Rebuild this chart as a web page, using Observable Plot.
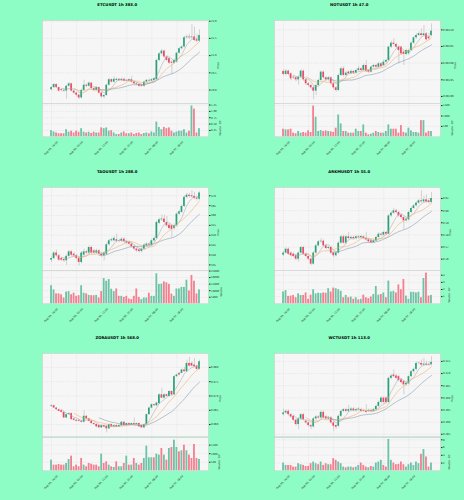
<!DOCTYPE html>
<html>
<head>
<meta charset="utf-8">
<script src="https://cdn.jsdelivr.net/npm/d3@7"></script>
<script src="https://cdn.jsdelivr.net/npm/@observablehq/plot@0.6"></script>
<style>
  html, body { margin: 0; padding: 0; background: #8efcc5; }
  #fig { position: relative; width: 464px; height: 500px; overflow: hidden; background: #8efcc5; }
  .pane { position: absolute; }
  .pane svg { overflow: visible; }
</style>
</head>
<body>
<div id="fig"></div>
<script>
// ---- hourly candles, 60 bars per market ----
const xTickIndex = [0, 10, 20, 30, 40, 50];
const xTickLabels = ["Aug 05, 16:00", "Aug 06, 02:00", "Aug 06, 12:00", "Aug 06, 22:00", "Aug 07, 08:00", "Aug 07, 18:00"];

// ETCUSDT
const etcOpen  = [20.01,20.07,20.16,20.07,20.01,19.99,19.97,20.11,20.18,19.97,19.91,19.85,19.77,19.99,20.14,20.11,20.20,20.04,19.99,20.07,19.91,19.80,19.84,20.14,20.30,20.23,20.28,20.31,20.28,20.31,20.28,20.26,20.30,20.23,20.18,20.16,20.14,20.11,20.23,20.28,20.26,20.28,20.30,20.86,21.05,21.13,20.96,20.91,20.81,20.78,20.81,21.07,21.20,21.25,21.52,21.54,21.52,21.54,21.46,21.42];
const etcHigh  = [20.10,20.19,20.18,20.09,20.04,20.03,20.13,20.22,20.20,20.00,19.94,19.88,20.02,20.28,20.17,20.24,20.22,20.07,20.10,20.09,19.94,19.87,20.17,20.34,20.33,20.38,20.34,20.34,20.35,20.34,20.31,20.33,20.40,20.26,20.21,20.19,20.17,20.26,20.31,20.32,20.34,20.36,20.90,21.09,21.18,21.16,21.00,20.94,20.85,20.90,21.10,21.24,21.29,21.56,21.60,21.62,21.90,21.83,21.62,21.75];
const etcLow   = [19.98,20.05,20.04,19.94,19.95,19.93,19.73,20.08,19.94,19.87,19.80,19.72,19.74,19.96,20.07,20.08,20.01,19.95,19.96,19.88,19.76,19.75,19.82,20.11,20.20,20.20,20.25,20.25,20.25,20.23,20.23,20.23,20.20,20.15,20.12,20.07,20.08,20.08,20.20,20.22,20.23,20.25,20.28,20.82,21.01,20.92,20.82,20.74,20.45,20.75,20.78,21.04,21.16,21.22,21.48,21.47,21.47,21.40,21.38,21.39];
const etcClose = [20.07,20.16,20.07,19.97,19.99,19.97,20.11,20.18,19.97,19.91,19.85,19.77,19.99,20.14,20.11,20.20,20.04,19.99,20.07,19.91,19.80,19.84,20.14,20.30,20.23,20.31,20.31,20.28,20.31,20.26,20.26,20.30,20.23,20.18,20.16,20.11,20.11,20.23,20.28,20.26,20.30,20.33,20.86,21.05,21.13,20.96,20.86,20.78,20.78,20.86,21.07,21.20,21.25,21.52,21.54,21.52,21.54,21.44,21.42,21.58];
const etcVolume = [0.24,0.19,0.15,0.12,0.12,0.12,0.28,0.18,0.22,0.15,0.22,0.18,0.32,0.18,0.15,0.18,0.13,0.18,0.15,0.15,0.35,0.32,0.35,0.22,0.24,0.15,0.09,0.09,0.15,0.19,0.12,0.12,0.15,0.09,0.13,0.15,0.09,0.13,0.15,0.12,0.19,0.15,0.58,0.37,0.28,0.37,0.32,0.35,0.22,0.15,0.19,0.22,0.22,0.28,0.15,0.22,1.21,1.09,0.15,0.32];

// NOTUSDT
const notOpen  = [0.001975,0.001966,0.001976,0.001968,0.001958,0.001956,0.001950,0.001958,0.001976,0.001950,0.001938,0.001933,0.001926,0.001916,0.001933,0.001948,0.001973,0.001956,0.001950,0.001956,0.001938,0.001926,0.001918,0.001963,0.001983,0.001963,0.001973,0.001968,0.001975,0.001970,0.001978,0.001983,0.001978,0.001993,0.001978,0.001973,0.001988,0.001993,0.001988,0.001998,0.001993,0.002003,0.002008,0.002048,0.002060,0.002056,0.002048,0.002048,0.002033,0.002026,0.002028,0.002038,0.002060,0.002076,0.002083,0.002088,0.002083,0.002088,0.002078,0.002083];
const notHigh  = [0.001980,0.001981,0.001979,0.001971,0.001962,0.001960,0.001962,0.001980,0.001979,0.001953,0.001942,0.001937,0.001930,0.001937,0.001952,0.001977,0.001976,0.001960,0.001960,0.001959,0.001941,0.001930,0.001967,0.001988,0.001990,0.001975,0.001977,0.001980,0.001978,0.001982,0.001990,0.001986,0.001997,0.002008,0.001981,0.001991,0.001997,0.001996,0.002002,0.002001,0.002010,0.002012,0.002052,0.002066,0.002073,0.002060,0.002052,0.002051,0.002037,0.002042,0.002042,0.002064,0.002080,0.002088,0.002094,0.002103,0.002113,0.002092,0.002090,0.002118];
const notLow   = [0.001961,0.001962,0.001962,0.001948,0.001951,0.001944,0.001934,0.001955,0.001945,0.001932,0.001928,0.001920,0.001890,0.001903,0.001930,0.001945,0.001951,0.001945,0.001946,0.001933,0.001920,0.001912,0.001915,0.001960,0.001958,0.001959,0.001964,0.001965,0.001966,0.001967,0.001975,0.001974,0.001975,0.001972,0.001969,0.001970,0.001985,0.001984,0.001985,0.001986,0.001990,0.002000,0.002005,0.002044,0.002051,0.002043,0.001998,0.002023,0.001993,0.002022,0.002024,0.002035,0.002056,0.002072,0.002079,0.002078,0.002079,0.002066,0.002068,0.002080];
const notClose = [0.001966,0.001976,0.001966,0.001953,0.001956,0.001950,0.001958,0.001976,0.001950,0.001938,0.001933,0.001926,0.001916,0.001933,0.001948,0.001973,0.001956,0.001950,0.001956,0.001938,0.001926,0.001918,0.001963,0.001983,0.001963,0.001970,0.001968,0.001975,0.001970,0.001978,0.001983,0.001978,0.001993,0.001976,0.001973,0.001988,0.001993,0.001988,0.001998,0.001990,0.002003,0.002008,0.002048,0.002060,0.002056,0.002048,0.002038,0.002028,0.002026,0.002038,0.002038,0.002060,0.002076,0.002083,0.002088,0.002083,0.002088,0.002070,0.002073,0.002096];
const notVolume = [365,333,333,365,175,143,254,175,206,175,286,206,1476,936,254,302,254,286,254,238,206,413,1047,619,254,254,175,175,175,365,254,254,571,175,95,127,175,254,206,175,175,254,571,365,365,365,175,540,206,175,413,286,206,206,175,778,778,175,254,254];

// TAOUSDT
const taoOpen  = [337.4,338.2,341.0,339.6,338.2,337.7,337.1,339.3,341.6,340.4,339.6,338.2,336.2,339.9,341.6,341.0,343.8,342.1,341.0,342.1,340.4,339.6,340.4,345.2,347.2,347.2,347.7,347.2,347.0,348.0,346.7,346.4,345.5,344.2,343.0,342.6,341.8,343.0,344.7,345.5,345.0,347.2,348.4,356.1,357.8,358.2,356.5,355.1,354.8,353.4,354.8,360.7,361.6,364.6,369.2,370.3,370.0,369.7,368.8,368.3];
const taoHigh  = [339.0,341.8,342.5,340.3,339.0,338.5,340.1,342.4,342.3,341.2,340.3,338.9,341.8,343.0,342.4,344.6,344.5,342.9,342.9,342.8,341.2,341.8,346.0,348.0,348.6,349.3,350.6,348.0,348.8,348.8,347.5,347.2,346.3,345.0,343.8,343.4,343.8,345.8,346.3,346.3,348.0,349.2,357.3,358.6,360.2,360.2,359.5,356.0,355.6,355.6,361.5,362.7,365.4,370.0,371.3,371.2,372.5,371.8,369.8,372.0];
const taoLow   = [336.2,337.6,338.9,336.6,336.7,336.2,334.8,338.7,339.1,338.8,337.5,334.5,335.5,339.2,340.2,340.3,340.3,340.1,340.3,339.6,338.6,337.0,339.7,344.5,346.4,346.5,346.2,346.2,346.3,345.9,345.2,344.7,343.4,342.2,341.3,341.0,341.0,342.3,344.0,344.2,344.3,346.5,347.8,355.4,357.0,355.8,354.0,352.6,348.9,352.6,354.1,360.0,361.0,364.0,368.5,368.8,368.7,368.0,367.3,367.6];
const taoClose = [338.2,341.0,339.6,337.4,337.4,337.1,339.3,341.6,339.9,339.6,338.2,336.2,341.0,341.6,341.0,343.8,341.0,341.0,342.1,340.4,339.6,341.0,345.2,347.2,347.7,348.4,347.0,347.0,348.0,346.7,346.0,345.5,344.2,343.0,342.1,341.8,343.0,345.0,345.5,345.0,347.2,348.4,356.5,357.8,358.2,356.5,354.8,353.4,353.1,354.8,360.7,361.9,364.6,369.2,370.3,369.7,369.5,368.8,368.3,371.4];
const taoVolume = [13800,10600,7600,7600,6900,4400,8900,9300,6900,8100,5700,6200,13800,8100,7600,6400,6200,6200,6400,4400,9300,19200,17200,18500,11100,9300,11300,5700,5700,4900,5700,3700,3200,5700,11300,4900,3200,4400,4400,8100,5700,5700,22900,14800,15000,16700,16000,14800,7400,5700,11300,11300,12500,12500,18000,9800,21600,17200,7600,10600];

// ARKMUSDT
const arkmOpen  = [0.5633,0.5650,0.5682,0.5650,0.5641,0.5628,0.5600,0.5650,0.5696,0.5641,0.5622,0.5600,0.5559,0.5650,0.5710,0.5743,0.5748,0.5710,0.5688,0.5696,0.5650,0.5628,0.5650,0.5732,0.5784,0.5732,0.5784,0.5770,0.5779,0.5770,0.5784,0.5779,0.5784,0.5770,0.5759,0.5751,0.5737,0.5751,0.5779,0.5806,0.5798,0.5820,0.5806,0.5957,0.5979,0.5998,0.5985,0.5963,0.5943,0.5916,0.5924,0.5985,0.6018,0.6040,0.6062,0.6081,0.6073,0.6089,0.6081,0.6067];
const arkmHigh  = [0.5662,0.5694,0.5692,0.5660,0.5651,0.5638,0.5660,0.5708,0.5706,0.5652,0.5632,0.5610,0.5662,0.5722,0.5755,0.5770,0.5758,0.5720,0.5708,0.5706,0.5660,0.5662,0.5744,0.5796,0.5800,0.5796,0.5820,0.5790,0.5790,0.5796,0.5794,0.5798,0.5795,0.5822,0.5770,0.5762,0.5762,0.5790,0.5818,0.5816,0.5832,0.5830,0.5969,0.5992,0.6020,0.6010,0.5995,0.5973,0.5953,0.5942,0.5996,0.6030,0.6052,0.6074,0.6095,0.6163,0.6120,0.6130,0.6100,0.6150];
const arkmLow   = [0.5621,0.5640,0.5630,0.5616,0.5610,0.5588,0.5575,0.5640,0.5630,0.5610,0.5588,0.5545,0.5550,0.5640,0.5700,0.5732,0.5698,0.5676,0.5678,0.5638,0.5610,0.5618,0.5640,0.5722,0.5722,0.5722,0.5760,0.5760,0.5760,0.5760,0.5768,0.5768,0.5760,0.5748,0.5732,0.5726,0.5726,0.5740,0.5768,0.5786,0.5788,0.5796,0.5796,0.5945,0.5968,0.5973,0.5945,0.5930,0.5847,0.5905,0.5914,0.5975,0.6008,0.6030,0.6052,0.6062,0.6062,0.6062,0.6055,0.6058];
const arkmClose = [0.5650,0.5682,0.5641,0.5628,0.5622,0.5600,0.5650,0.5696,0.5641,0.5622,0.5600,0.5559,0.5650,0.5710,0.5743,0.5748,0.5710,0.5688,0.5696,0.5650,0.5628,0.5650,0.5732,0.5784,0.5732,0.5784,0.5770,0.5779,0.5770,0.5784,0.5779,0.5787,0.5770,0.5759,0.5743,0.5737,0.5751,0.5779,0.5806,0.5798,0.5820,0.5806,0.5957,0.5979,0.5998,0.5985,0.5957,0.5943,0.5916,0.5930,0.5985,0.6018,0.6040,0.6062,0.6081,0.6073,0.6089,0.6073,0.6067,0.6100];
const arkmVolume = [1.66,1.84,1.03,1.08,1.17,0.85,1.39,1.17,1.17,1.52,0.63,1.21,1.97,1.39,1.48,1.43,1.52,1.48,2.11,1.66,2.20,2.11,1.97,1.75,0.85,1.17,0.85,0.94,0.63,0.85,0.54,0.63,1.21,0.85,0.72,0.94,1.30,2.42,1.21,1.30,1.52,0.85,3.18,1.66,1.75,1.52,2.65,1.97,3.41,1.08,0.63,1.61,1.61,1.52,1.61,0.85,3.54,4.30,1.08,1.17];

// ZORAUSDT
const zoraOpen  = [0.06636,0.06659,0.06578,0.06520,0.06486,0.06428,0.06231,0.06347,0.06382,0.06197,0.06150,0.06150,0.06116,0.06081,0.06289,0.06197,0.06116,0.06035,0.06000,0.05965,0.05885,0.05965,0.05942,0.05850,0.06000,0.05919,0.05965,0.05919,0.05965,0.06081,0.05965,0.06035,0.05989,0.06035,0.06000,0.06035,0.05965,0.05885,0.06000,0.06347,0.06578,0.06694,0.06659,0.06728,0.07041,0.06925,0.07041,0.06983,0.07156,0.07041,0.07676,0.07792,0.07792,0.07908,0.07850,0.08139,0.08139,0.08081,0.08046,0.07931];
const zoraHigh  = [0.06690,0.06680,0.06600,0.06545,0.06510,0.06450,0.06380,0.06420,0.06405,0.06225,0.06180,0.06175,0.06140,0.06480,0.06315,0.06225,0.06140,0.06060,0.06025,0.05990,0.05995,0.05990,0.05970,0.06030,0.06030,0.05995,0.05990,0.05995,0.06110,0.06105,0.06060,0.06060,0.06060,0.06230,0.06060,0.06060,0.05990,0.06030,0.06380,0.06610,0.06725,0.06720,0.06785,0.07075,0.07270,0.07075,0.07070,0.07190,0.07185,0.07710,0.07770,0.07820,0.07940,0.08000,0.08250,0.08350,0.08200,0.08310,0.08080,0.08250];
const zoraLow   = [0.06610,0.06555,0.06495,0.06440,0.06400,0.06205,0.06205,0.06320,0.06150,0.06120,0.06090,0.06090,0.06055,0.06060,0.06170,0.06090,0.06010,0.05975,0.05890,0.05860,0.05860,0.05890,0.05710,0.05825,0.05895,0.05890,0.05895,0.05895,0.05940,0.05940,0.05940,0.05965,0.05965,0.05975,0.05975,0.05895,0.05860,0.05860,0.05975,0.06320,0.06550,0.06630,0.06630,0.06700,0.06900,0.06900,0.06955,0.06955,0.07010,0.07015,0.07650,0.07705,0.07765,0.07820,0.07820,0.08015,0.08015,0.07995,0.07900,0.07900];
const zoraClose = [0.06659,0.06578,0.06520,0.06462,0.06428,0.06231,0.06347,0.06382,0.06173,0.06150,0.06116,0.06116,0.06081,0.06289,0.06197,0.06116,0.06035,0.06000,0.05919,0.05885,0.05965,0.05919,0.05850,0.06000,0.05919,0.05965,0.05919,0.05965,0.06081,0.05965,0.06035,0.05989,0.06035,0.06000,0.06035,0.05919,0.05885,0.06000,0.06347,0.06578,0.06694,0.06659,0.06752,0.07041,0.06925,0.07041,0.06983,0.07156,0.07041,0.07676,0.07734,0.07734,0.07908,0.07850,0.08139,0.08046,0.08046,0.08023,0.07931,0.08197];
const zoraVolume = [623,331,331,370,331,331,428,662,856,234,331,234,720,331,234,428,389,331,331,234,973,428,525,331,234,195,525,234,234,428,856,331,331,720,428,331,428,720,1440,759,759,759,973,915,1304,915,623,1304,1362,1790,1362,1109,1168,1498,1168,915,720,1537,720,662];

// WCTUSDT
const wctOpen  = [0.29307,0.29375,0.29443,0.29307,0.29239,0.29076,0.28899,0.29130,0.29307,0.29035,0.28967,0.28858,0.28803,0.29130,0.29212,0.29171,0.29402,0.29212,0.29130,0.29171,0.28967,0.28858,0.28830,0.29239,0.29443,0.29512,0.29443,0.29484,0.29539,0.29471,0.29512,0.29512,0.29471,0.29443,0.29443,0.29484,0.29443,0.29512,0.29648,0.29811,0.29988,0.29988,0.29811,0.30805,0.30942,0.30901,0.30873,0.30737,0.30669,0.30533,0.30574,0.30873,0.31078,0.31173,0.31418,0.31418,0.31350,0.31391,0.31377,0.31377];
const wctHigh  = [0.29530,0.29500,0.29500,0.29360,0.29290,0.29130,0.29190,0.29360,0.29360,0.29090,0.29020,0.28910,0.29190,0.29270,0.29270,0.29460,0.29460,0.29270,0.29230,0.29230,0.29020,0.28910,0.29300,0.29500,0.29570,0.29570,0.29690,0.29600,0.29600,0.29570,0.29600,0.29570,0.29530,0.29720,0.29540,0.29540,0.29570,0.29700,0.29870,0.30050,0.30050,0.30050,0.30860,0.30960,0.31150,0.30960,0.30930,0.30790,0.30720,0.30660,0.30930,0.31130,0.31230,0.31470,0.31490,0.31560,0.31620,0.31500,0.31480,0.31690];
const wctLow   = [0.29250,0.29320,0.29250,0.29150,0.29020,0.28840,0.28690,0.29075,0.29045,0.28910,0.28800,0.28690,0.28750,0.29075,0.29115,0.29115,0.29115,0.29075,0.29075,0.28910,0.28630,0.28700,0.28775,0.29180,0.29390,0.29390,0.29390,0.29430,0.29415,0.29415,0.29460,0.29390,0.29390,0.29345,0.29390,0.29390,0.29390,0.29460,0.29590,0.29750,0.29750,0.29750,0.29750,0.30750,0.30820,0.30750,0.30650,0.30570,0.30120,0.30480,0.30520,0.30820,0.31020,0.31120,0.31360,0.31300,0.31300,0.31300,0.31300,0.31320];
const wctClose = [0.29375,0.29443,0.29307,0.29212,0.29076,0.28899,0.29130,0.29307,0.29103,0.28967,0.28858,0.28803,0.29130,0.29212,0.29171,0.29402,0.29171,0.29130,0.29171,0.28967,0.28830,0.28790,0.29239,0.29443,0.29512,0.29443,0.29512,0.29539,0.29471,0.29512,0.29539,0.29443,0.29443,0.29402,0.29484,0.29443,0.29512,0.29648,0.29811,0.29988,0.29811,0.29811,0.30805,0.30901,0.30873,0.30805,0.30710,0.30628,0.30533,0.30601,0.30873,0.31078,0.31173,0.31418,0.31430,0.31350,0.31391,0.31350,0.31350,0.31459];
const wctVolume = [2.00,1.39,1.39,1.39,0.96,0.96,1.83,1.57,1.39,1.13,1.13,1.83,2.26,1.83,1.57,2.26,1.39,1.83,1.57,1.57,3.13,2.70,2.26,1.83,0.96,0.78,0.96,0.96,0.78,0.96,1.39,2.00,1.39,0.96,0.78,1.13,0.96,2.00,2.26,2.70,1.39,0.96,8.09,2.70,2.00,1.57,1.65,2.26,1.57,0.96,1.57,2.00,1.39,2.26,1.83,4.26,5.48,3.57,0.96,2.00];

// ---- styling ----
const upColor = "#26a37a", downColor = "#ef4560";
const volUpColor = "#6cc3a5", volDownColor = "#f2808f";
const wickColor = "#a6a6a6";
const maWindows = [5, 10, 20];
const maColors = ["#a8a8a8", "#f2ad66", "#7f94a8"];
const panelFill = "#f6f6f6", gridColor = "#d8d8d8", frameColor = "#c9c9c9";
const fontFamily = "DejaVu Sans, sans-serif";
const tickFont = 2.6;

const axesW = 166, priceH = 83.3, volH = 33.3;
const colLeft = [41.7, 273.7];
const rowTop = [20, 186.7, 353.3];
const xDomain = [-3.6, 62.6];

const fmt = d3.format;
const charts = [
  {title: "ETCUSDT 1h 383.0", open: etcOpen, high: etcHigh, low: etcLow, close: etcClose, volume: etcVolume,
   priceDomain: [19.60, 22.02], priceTicks: [20.0, 20.5, 21.0, 21.5, 22.0], priceFormat: fmt(".1f"), priceLabelDx: 10,
   volDomain: [0, 1.31], volTicks: [0.25, 0.5, 0.75, 1.0, 1.25], volFormat: fmt(".2f"), volLabel: "Volume  10⁶", volLabelDx: 11.5},
  {title: "NOTUSDT 1h 47.0", open: notOpen, high: notHigh, low: notLow, close: notClose, volume: notVolume,
   priceDomain: [0.001878, 0.002128], priceTicks: [0.0019, 0.00195, 0.002, 0.00205, 0.0021], priceFormat: fmt(".5f"), priceLabelDx: 15,
   volDomain: [0, 1600], volTicks: [500, 1000, 1500], volFormat: fmt("d"), volLabel: "Volume  10⁶", volLabelDx: 12},
  {title: "TAOUSDT 1h 288.0", open: taoOpen, high: taoHigh, low: taoLow, close: taoClose, volume: taoVolume,
   priceDomain: [332.0, 374.2], priceTicks: [335, 340, 345, 350, 355, 360, 365, 370], priceFormat: fmt("d"), priceLabelDx: 9.3,
   volDomain: [0, 25400], volTicks: [5000, 10000, 15000, 20000, 25000], volFormat: fmt("d"), volLabel: "Volume", volLabelDx: 12.6},
  {title: "ARKMUSDT 1h 55.0", open: arkmOpen, high: arkmHigh, low: arkmLow, close: arkmClose, volume: arkmVolume,
   priceDomain: [0.5504, 0.6191], priceTicks: [0.56, 0.57, 0.58, 0.59, 0.60, 0.61], priceFormat: fmt(".2f"), priceLabelDx: 10,
   volDomain: [0, 4.66], volTicks: [1, 2, 3, 4], volFormat: fmt("d"), volLabel: "Volume  10⁵", volLabelDx: 8.5},
  {title: "ZORAUSDT 1h 568.0", open: zoraOpen, high: zoraHigh, low: zoraLow, close: zoraClose, volume: zoraVolume,
   priceDomain: [0.05572, 0.08486], priceTicks: [0.060, 0.065, 0.070, 0.075, 0.080], priceFormat: fmt(".3f"), priceLabelDx: 12,
   volDomain: [0, 1946], volTicks: [500, 1000, 1500], volFormat: fmt("d"), volLabel: "Volume  10³", volLabelDx: 11},
  {title: "WCTUSDT 1h 113.0", open: wctOpen, high: wctHigh, low: wctLow, close: wctClose, volume: wctVolume,
   priceDomain: [0.28395, 0.31827], priceTicks: [0.285, 0.290, 0.295, 0.300, 0.305, 0.310, 0.315], priceFormat: fmt(".3f"), priceLabelDx: 12,
   volDomain: [0, 8.6], volTicks: [2, 4, 6, 8], volFormat: fmt("d"), volLabel: "Volume  10⁵", volLabelDx: 8.5}
];

const fig = document.getElementById("fig");

function place(node, left, top) {
  const div = document.createElement("div");
  div.className = "pane";
  div.style.left = left + "px";
  div.style.top = top + "px";
  div.appendChild(node);
  fig.appendChild(div);
}

function drawChart(c, k) {
  const left = colLeft[k % 2], top = rowTop[Math.floor(k / 2)];
  const rows = c.close.map((close, i) => ({i, open: c.open[i], high: c.high[i], low: c.low[i], close, volume: c.volume[i]}));
  const ups = rows.filter(d => d.close >= d.open);
  const downs = rows.filter(d => d.close < d.open);
  const body = {x1: d => d.i - 0.33, x2: d => d.i + 0.33};
  const grid = {stroke: gridColor, strokeOpacity: 1, strokeWidth: 0.4, strokeDasharray: "1.4,0.9"};
  const base = {
    width: axesW + 22, marginLeft: 0, marginRight: 22,
    style: {background: "transparent", fontFamily, fontSize: tickFont + "px", color: "#222", overflow: "visible"},
    x: {domain: xDomain, axis: null}
  };

  const price = Plot.plot({
    ...base, height: priceH + 20, marginTop: 20, marginBottom: 0,
    y: {domain: c.priceDomain, axis: "right", ticks: c.priceTicks, tickFormat: c.priceFormat, tickSize: 1.5, tickPadding: 1, label: null},
    marks: [
      Plot.frame({fill: panelFill}),
      Plot.gridX(xTickIndex, grid),
      Plot.gridY(c.priceTicks, grid),
      Plot.ruleX(rows, {x: "i", y1: "low", y2: "high", stroke: wickColor, strokeWidth: 0.45}),
      Plot.rect(ups, {...body, y1: "open", y2: "close", fill: upColor}),
      Plot.rect(downs, {...body, y1: "open", y2: "close", fill: downColor}),
      ...maWindows.map((w, j) => Plot.lineY(rows, Plot.windowY({k: w, anchor: "end", reduce: "mean", strict: true},
        {x: "i", y: "close", stroke: maColors[j], strokeWidth: 0.55}))),
      Plot.frame({stroke: frameColor, strokeWidth: 0.5}),
      Plot.text([c.title], {frameAnchor: "top", dx: -8.3, dy: -17, fontSize: 3.85, fontWeight: "bold", fill: "#000"}),
      Plot.text(["Price"], {frameAnchor: "right", dx: c.priceLabelDx, rotate: -90, fontSize: tickFont, fill: "#222"})
    ]
  });
  place(price, left, top - 20);

  const vol = Plot.plot({
    ...base, height: volH + 26, marginTop: 0, marginBottom: 26,
    y: {domain: c.volDomain, axis: "right", ticks: c.volTicks, tickFormat: c.volFormat, tickSize: 1.5, tickPadding: 1, label: null},
    marks: [
      Plot.frame({fill: panelFill}),
      Plot.gridX(xTickIndex, grid),
      Plot.gridY(c.volTicks, grid),
      Plot.rect(ups, {x1: d => d.i - 0.36, x2: d => d.i + 0.36, y1: () => 0, y2: "volume", fill: volUpColor}),
      Plot.rect(downs, {x1: d => d.i - 0.36, x2: d => d.i + 0.36, y1: () => 0, y2: "volume", fill: volDownColor}),
      Plot.frame({stroke: frameColor, strokeWidth: 0.5}),
      Plot.text(xTickIndex, {x: d => d, text: (d, i) => xTickLabels[i], frameAnchor: "bottom", dy: 12, rotate: -45, fontSize: tickFont, fill: "#222"}),
      Plot.text([c.volLabel], {frameAnchor: "right", dx: c.volLabelDx, rotate: -90, fontSize: tickFont, fill: "#222"})
    ]
  });
  place(vol, left, top + priceH);
}

charts.forEach(drawChart);
</script>
</body>
</html>
